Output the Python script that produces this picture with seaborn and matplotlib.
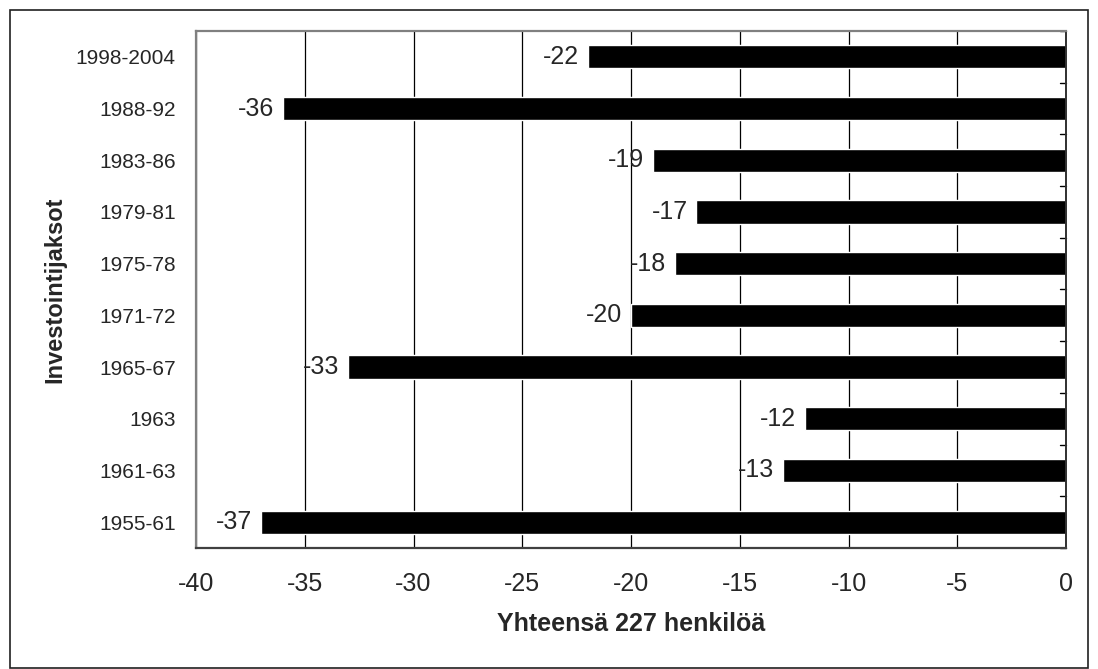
import pandas as pd
import seaborn as sns
import matplotlib.pyplot as plt
from matplotlib.patches import Rectangle

# Data
periods = ['1998-2004', '1988-92', '1983-86', '1979-81', '1975-78',
           '1971-72', '1965-67', '1963', '1961-63', '1955-61']
persons = [-22, -36, -19, -17, -18, -20, -33, -12, -13, -37]
x_ticks = [-40, -35, -30, -25, -20, -15, -10, -5, 0]

df = pd.DataFrame({'period': periods, 'persons': persons})

sns.set_style('white')
plt.rcParams['font.family'] = ['Liberation Sans', 'DejaVu Sans']

fig = plt.figure(figsize=(10.98, 6.69), dpi=100)
ax = fig.add_axes([196 / 1098, 1 - 548 / 669, 870 / 1098, 517 / 669])

sns.barplot(data=df, x='persons', y='period', orient='h', color='black',
            width=0.45, saturation=1, ax=ax)

# value labels at the left end of each bar
for i, v in enumerate(persons):
    ax.text(v - 0.4, i, str(v), ha='right', va='center', fontsize=18)

ax.set_xlim(-40, 0)
ax.set_ylim(len(periods) - 0.5, -0.5)
ax.set_xticks(x_ticks)
ax.set_xticklabels([str(t) for t in x_ticks], fontsize=18)
ax.tick_params(axis='x', direction='out', length=6, width=1.2, pad=11, color='#404040')
ax.tick_params(axis='y', left=False, labelsize=15, pad=11)
ax.xaxis.grid(True, color='black', linewidth=0.9)
ax.set_axisbelow(True)

# category boundary ticks along the zero line
for b in range(len(periods) + 1):
    ax.plot([-0.28, 0], [b - 0.5, b - 0.5], color='black', linewidth=1, clip_on=False)

for s in ['top', 'left']:
    ax.spines[s].set_color('#808080')
    ax.spines[s].set_linewidth(1.6)
ax.spines['right'].set_color('#303030')
ax.spines['right'].set_linewidth(1.4)
ax.spines['bottom'].set_color('#404040')
ax.spines['bottom'].set_linewidth(1.6)

ax.set_xlabel('Yhteensä 227 henkilöä', fontsize=18, fontweight='bold')
ax.set_ylabel('Investointijaksot', fontsize=17, fontweight='bold')
ax.xaxis.set_label_coords(0.5, -0.124)
ax.yaxis.set_label_coords(-0.149, 0.5)

# outer frame (bottom edge sits on the last pixel row)
fig.patches.append(Rectangle((10 / 1098, 1.5 / 669), 1078 / 1098, 658 / 669,
                             transform=fig.transFigure, fill=False,
                             edgecolor='#202020', linewidth=1.2))

fig.savefig('out.png', dpi=100)
